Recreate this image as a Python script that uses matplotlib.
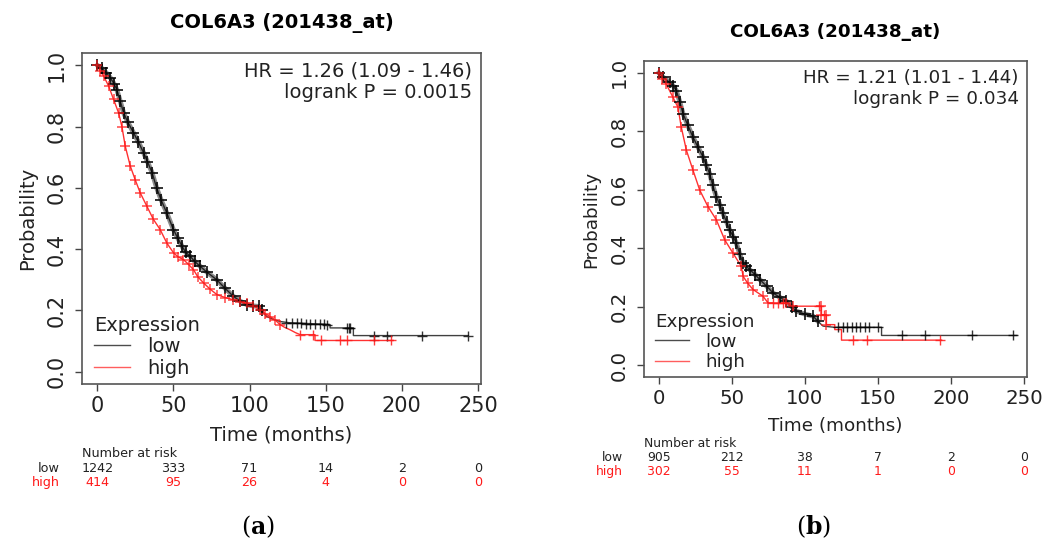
import numpy as np
import matplotlib.pyplot as plt

plt.rcParams['mathtext.fontset'] = 'dejavuserif'

# ---- panel (a) ----
a_low_t = [0, 3, 6, 8.5, 11, 12.9, 15, 17.3, 20, 23.8, 27, 30.4, 33, 36, 39, 42, 45.7, 50,
           53, 55.6, 58, 61, 64, 67.6, 72, 78.5, 84, 89.4, 94, 98.2, 102, 105.9, 108, 111.3,
           115, 120, 126, 135, 145, 152.9, 152.9, 168.2, 168.2, 243.6]
a_low_s = [1.0, 0.99, 0.975, 0.96, 0.94, 0.92, 0.885, 0.845, 0.815, 0.78, 0.75, 0.715, 0.685,
           0.65, 0.60, 0.56, 0.518, 0.464, 0.435, 0.41, 0.39, 0.377, 0.36, 0.344, 0.325, 0.30,
           0.272, 0.246, 0.23, 0.219, 0.215, 0.213, 0.20, 0.18, 0.172, 0.164, 0.16, 0.158,
           0.156, 0.154, 0.143, 0.143, 0.118, 0.118]
a_low_cens_t = [124, 128, 131, 134, 137, 140, 143, 146, 149, 151, 164, 165, 166, 182, 190, 213, 243.6]
a_low_cens_s = [0.16, 0.158, 0.158, 0.158, 0.157, 0.157, 0.156, 0.156, 0.155, 0.154,
                0.143, 0.143, 0.143, 0.118, 0.118, 0.118, 0.118]

a_high_t = [0, 2, 4.2, 7.5, 10.7, 14, 16.2, 18.4, 21.7, 24.9, 28.2, 32.6, 36.9, 41.3, 45.7,
            50.1, 53, 56.6, 60, 63.2, 66, 69.8, 74, 78.5, 84, 89.4, 94, 98.2, 102, 107, 110,
            113.5, 117, 120, 123, 126.6, 130, 133.2, 143, 143, 194.4]
a_high_s = [1.0, 0.98, 0.965, 0.932, 0.889, 0.845, 0.80, 0.736, 0.671, 0.627, 0.584, 0.54,
            0.497, 0.464, 0.42, 0.388, 0.375, 0.366, 0.35, 0.333, 0.31, 0.29, 0.27, 0.252,
            0.242, 0.235, 0.229, 0.224, 0.216, 0.203, 0.19, 0.18, 0.168, 0.154, 0.145, 0.137,
            0.128, 0.121, 0.121, 0.102, 0.102]
a_high_cens_t = [133, 142, 146.7, 159.7, 164, 182, 192.6]
a_high_cens_s = [0.121, 0.121, 0.102, 0.102, 0.102, 0.102, 0.102]

a_hr = "HR = 1.26 (1.09 - 1.46)\nlogrank P = 0.0015"
a_risk_low = [1242, 333, 71, 14, 2, 0]
a_risk_high = [414, 95, 26, 4, 0, 0]

# ---- panel (b) ----
b_low_t = [0, 3, 7.5, 10, 12.1, 14.5, 16.7, 20, 23.5, 27, 30.4, 32.5, 34.9, 37, 39.5, 42, 44,
           46.5, 48.6, 51, 53.2, 55.5, 57.8, 60, 62.3, 66, 69.2, 74, 78.3, 83, 87.4, 91, 94.3,
           100, 105.7, 109, 112.5, 120, 152.5, 152.5, 245]
b_low_s = [1.0, 0.985, 0.967, 0.955, 0.939, 0.90, 0.86, 0.82, 0.78, 0.745, 0.712, 0.685,
           0.655, 0.615, 0.576, 0.548, 0.519, 0.49, 0.463, 0.44, 0.417, 0.38, 0.349, 0.338,
           0.327, 0.31, 0.293, 0.27, 0.247, 0.232, 0.219, 0.20, 0.185, 0.175, 0.168, 0.15,
           0.134, 0.13, 0.13, 0.102, 0.102]
b_low_cens_t = [123, 126, 129, 132, 135, 138, 141, 144, 150, 166.3, 182.3, 214.2, 242.7]
b_low_cens_s = [0.13, 0.13, 0.13, 0.13, 0.13, 0.13, 0.13, 0.13, 0.13, 0.102, 0.102, 0.102, 0.102]

b_high_t = [0, 2.5, 5.3, 9.8, 13.2, 15.5, 19, 23.5, 28.1, 33.8, 39.5, 45.2, 50.9, 56.6, 57.8,
            61, 64.6, 71.4, 74.9, 87.4, 92, 111.4, 111.4, 114.8, 114.8, 120.5, 120.5, 125.1,
            125.1, 193.6]
b_high_s = [1.0, 0.98, 0.96, 0.916, 0.882, 0.814, 0.735, 0.667, 0.599, 0.542, 0.497, 0.429,
            0.383, 0.338, 0.304, 0.28, 0.259, 0.236, 0.213, 0.213, 0.202, 0.202, 0.173, 0.173,
            0.139, 0.139, 0.122, 0.122, 0.086, 0.086]
b_high_cens_t = [78, 82, 85, 110, 113, 133.2, 142.3, 192.4]
b_high_cens_s = [0.213, 0.213, 0.213, 0.202, 0.173, 0.086, 0.086, 0.086]

b_hr = "HR = 1.21 (1.01 - 1.44)\nlogrank P = 0.034"
b_risk_low = [905, 212, 38, 7, 2, 0]
b_risk_high = [302, 55, 11, 1, 0, 0]

risk_times = [0, 50, 100, 150, 200, 250]
title = "COL6A3 (201438_at)"
TXT = "#222222"
RED = "#ff1a1a"

fig = plt.figure(figsize=(10.56, 5.4), dpi=100)


def km_panel(rect, low, high, hr, risk_low, risk_high, letter, fs, rfs, letter_x):
    ax = fig.add_axes(rect)
    lt, ls, lct, lcs = low
    ht, hs, hct, hcs = high
    lt, ls, ht, hs = map(np.array, (lt, ls, ht, hs))

    # dense band of censor marks on the early part of the "low" curve
    m = lt <= 110
    ax.plot(lt[m], ls[m], color="black", lw=3.5, alpha=0.45, solid_capstyle="round")
    l1, = ax.plot(lt, ls, color="black", lw=1.0, alpha=0.75, label="low")
    l2, = ax.plot(ht, hs, color=RED, lw=1.0, alpha=0.9, label="high")
    ax.plot(lt[m], ls[m], "+", color="black", ms=8, mew=1.4, alpha=0.8)
    ax.plot(lct, lcs, "+", color="black", ms=7, mew=1.0, alpha=0.8)
    m = ht <= 120
    ax.plot(ht[m], hs[m], "+", color=RED, ms=7, mew=1.1, alpha=0.8)
    ax.plot(hct, hcs, "+", color=RED, ms=7, mew=1.0, alpha=0.85)

    ax.set_xlim(-10, 252)
    ax.set_ylim(-0.04, 1.04)
    ax.set_xticks(risk_times)
    ax.set_yticks([0.0, 0.2, 0.4, 0.6, 0.8, 1.0])
    ax.set_yticklabels(["0.0", "0.2", "0.4", "0.6", "0.8", "1.0"])
    ax.tick_params(axis="both", colors="#444444", labelcolor=TXT, labelsize=fs + 1,
                   length=5, width=1)
    ax.tick_params(axis="x", pad=4)
    ax.tick_params(axis="y", labelrotation=90, pad=6)
    for lab in ax.get_yticklabels():
        lab.set_va("center")
    for sp in ax.spines.values():
        sp.set_color("#555555")
        sp.set_linewidth(1.2)

    ax.text(0.5, 1.091, title, transform=ax.transAxes, ha="center", va="center",
            fontsize=fs, fontweight="bold", color="black")
    ax.text(0.978, 0.975, hr, transform=ax.transAxes, ha="right", va="top",
            fontsize=fs, color=TXT, linespacing=1.2)
    ax.text(-0.137, 0.5, "Probability", transform=ax.transAxes, rotation=90,
            ha="center", va="center", fontsize=fs, color=TXT)
    ax.text(0.5, -0.155, "Time (months)", transform=ax.transAxes, ha="center",
            va="center", fontsize=fs, color=TXT)

    leg = ax.legend(handles=[l1, l2], loc="lower left", bbox_to_anchor=(0.005, -0.01),
                    title="Expression", frameon=False, fontsize=fs, title_fontsize=fs,
                    handlelength=1.85, handletextpad=0.9, labelspacing=0.12,
                    borderaxespad=0.3, borderpad=0.2)
    leg._legend_box.align = "left"
    for t in leg.get_texts():
        t.set_color(TXT)
    leg.get_title().set_color(TXT)
    for h in leg.legend_handles:
        h.set_alpha(0.7)

    tr = ax.get_xaxis_transform()
    ax.text(-10, -0.209, "Number at risk", transform=tr, ha="left", va="center",
            fontsize=rfs, color=TXT)
    ax.text(-0.055, -0.256, "low", transform=ax.transAxes, ha="right", va="center",
            fontsize=rfs, color=TXT)
    ax.text(-0.055, -0.299, "high", transform=ax.transAxes, ha="right", va="center",
            fontsize=rfs, color=RED)
    for x, nl, nh in zip(risk_times, risk_low, risk_high):
        ax.text(x, -0.256, str(nl), transform=tr, ha="center", va="center",
                fontsize=rfs, color=TXT)
        ax.text(x, -0.299, str(nh), transform=tr, ha="center", va="center",
                fontsize=rfs, color=RED)

    fig.text(letter_x, 0.024, "($\\mathbf{" + letter + "}$)", ha="center", va="center",
             fontsize=17, family="DejaVu Serif", color="black")
    return ax


axa = km_panel([82 / 1056, 1 - 384 / 540, 399 / 1056, 331 / 540],
               (a_low_t, a_low_s, a_low_cens_t, a_low_cens_s),
               (a_high_t, a_high_s, a_high_cens_t, a_high_cens_s),
               a_hr, a_risk_low, a_risk_high, "a", 14, 9.2, 0.244)
axb = km_panel([644 / 1056, 1 - 377 / 540, 383 / 1056, 316 / 540],
               (b_low_t, b_low_s, b_low_cens_t, b_low_cens_s),
               (b_high_t, b_high_s, b_high_cens_t, b_high_cens_s),
               b_hr, b_risk_low, b_risk_high, "b", 13.2, 8.9, 0.770)

fig.savefig("out.png", dpi=100)
